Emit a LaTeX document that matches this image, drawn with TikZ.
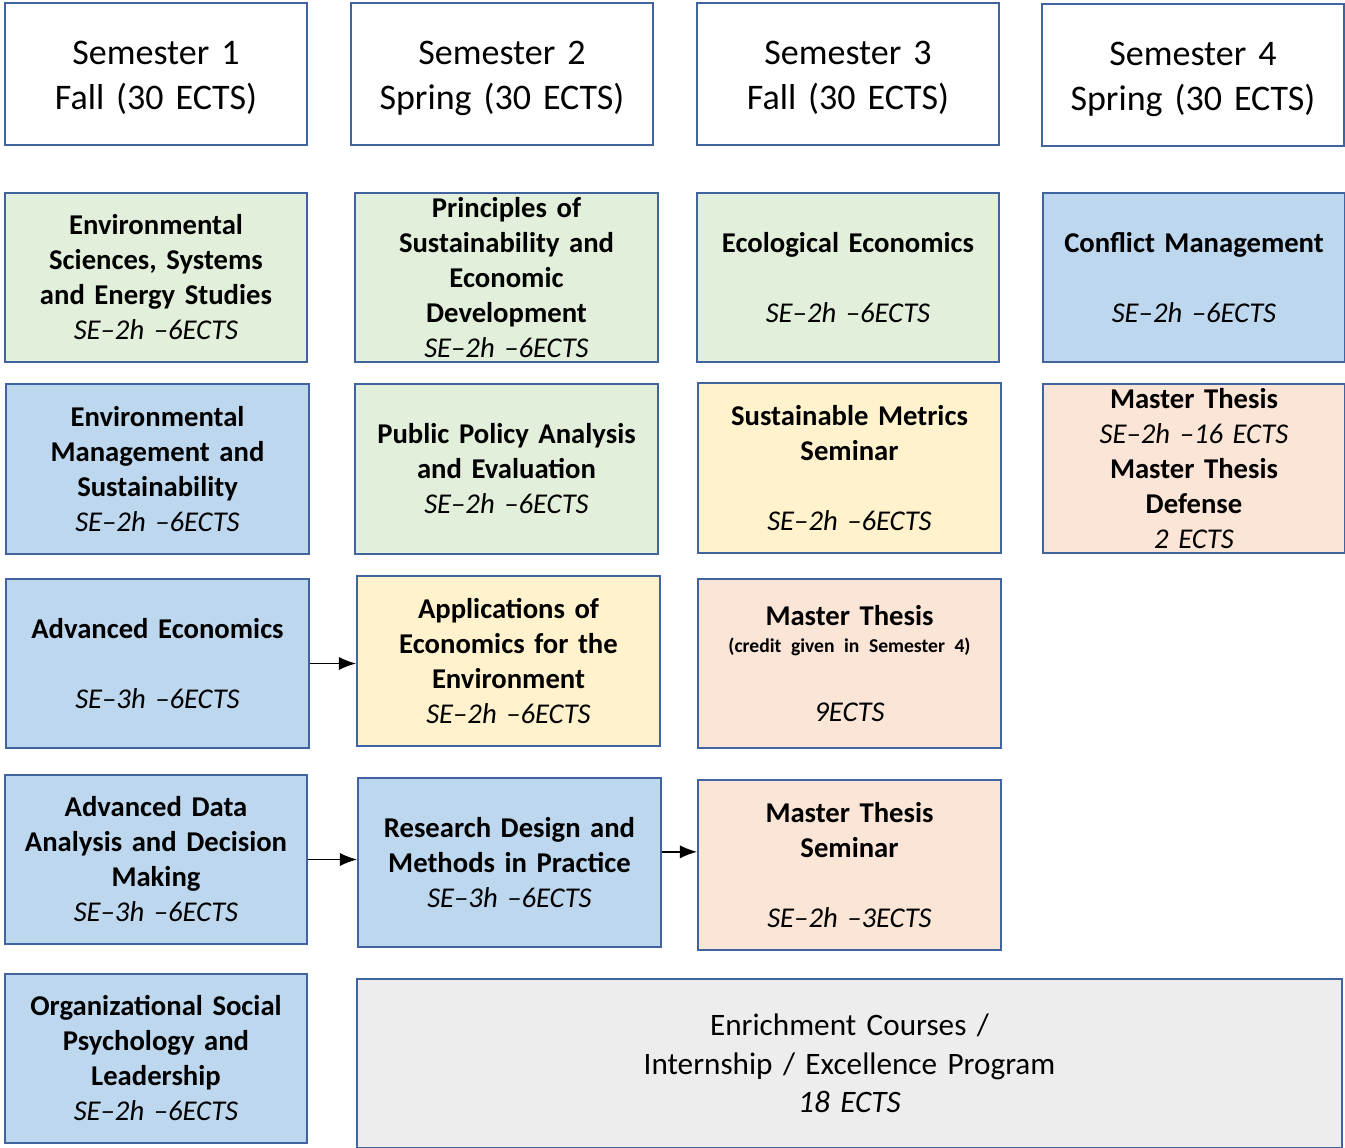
\documentclass[tikz,border=0pt]{standalone}
\usepackage{fontspec}
\setmainfont{Carlito}
\usetikzlibrary{arrows.meta}

\definecolor{boxline}{RGB}{65,100,160}
\definecolor{cgreen}{RGB}{226,239,218}
\definecolor{cblue}{RGB}{189,215,238}
\definecolor{cyellow}{RGB}{255,242,204}
\definecolor{cpeach}{RGB}{251,229,214}
\definecolor{cgrey}{RGB}{237,237,237}

\tikzset{every picture/.style={line width=0.75pt}}
\tikzset{
  course/.style={draw=boxline, line width=1.6pt, align=center, inner sep=0pt,
    minimum width=227pt, minimum height=127pt, text width=220pt,
    font=\fontsize{21.5}{26.25}\selectfont},
  semhead/.style={course, fill=white, minimum height=106.5pt, text depth=32pt,
    font=\fontsize{27}{33.75}\selectfont},
  greenc/.style={course, fill=cgreen},
  bluec/.style={course, fill=cblue},
  yellowc/.style={course, fill=cyellow},
  peachc/.style={course, fill=cpeach},
  greyc/.style={course, fill=cgrey, minimum width=739pt, text width=720pt,
    font=\fontsize{23.4}{29}\selectfont},
  prereq/.style={-{Latex[length=13pt,width=10pt]}, line width=1.2pt}
}

\begin{document}
\begin{tikzpicture}[x=0.75pt,y=0.75pt,yscale=-1,xscale=1]
    \useasboundingbox (0,0) rectangle (1345,1148);
    % Text Node
    \node[semhead] (sem1) at (156,74) {Semester 1\\Fall (30 ECTS)};
    % Text Node
    \node[semhead] (sem2) at (502,74) {Semester 2\\Spring (30 ECTS)};
    % Text Node
    \node[semhead] (sem3) at (848,74) {Semester 3\\Fall (30 ECTS)};
    % Text Node
    \node[semhead] (sem4) at (1193,75) {Semester 4\\Spring (30 ECTS)};
    % Text Node
    \node[greenc] (envsci) at (156,277.5) {\textbf{Environmental}\\\textbf{Sciences, Systems}\\\textbf{and Energy Studies}\\\textit{SE–2h –6ECTS}};
    % Text Node
    \node[greenc] (princ) at (506.5,277.5) {\textbf{Principles of}\\\textbf{Sustainability and}\\\textbf{Economic}\\\textbf{Development}\\\textit{SE–2h –6ECTS}};
    % Text Node
    \node[greenc] (ecoeco) at (848,277.5) {\textbf{Ecological Economics}\\[26.25pt]\textit{SE–2h –6ECTS}};
    % Text Node
    \node[bluec] (conflict) at (1194,277.5) {\textbf{Conflict Management}\\[26.25pt]\textit{SE–2h –6ECTS}};
    % Text Node
    \node[bluec] (envmgmt) at (157.5,469) {\textbf{Environmental}\\\textbf{Management and}\\\textbf{Sustainability}\\\textit{SE–2h –6ECTS}};
    % Text Node
    \node[greenc] (policy) at (506.5,469) {\textbf{Public Policy Analysis}\\\textbf{and Evaluation}\\\textit{SE–2h –6ECTS}};
    % Text Node
    \node[yellowc] (metrics) at (849.5,468) {\textbf{Sustainable Metrics}\\\textbf{Seminar}\\[26.25pt]\textit{SE–2h –6ECTS}};
    % Text Node
    \node[peachc] (thesis) at (1194,468.5) {\textbf{Master Thesis}\\\textit{SE–2h –16 ECTS}\\\textbf{Master Thesis}\\\textbf{Defense}\\\textit{2 ECTS}};
    % Text Node
    \node[bluec] (adveco) at (157.5,663.5) {\textbf{Advanced Economics}\\[26.25pt]\textit{SE–3h –6ECTS}};
    % Text Node
    \node[yellowc] (appeco) at (508.5,661) {\textbf{Applications of}\\\textbf{Economics for the}\\\textbf{Environment}\\\textit{SE–2h –6ECTS}};
    % Text Node
    \node[peachc] (thesiswork) at (849.5,663.5) {\textbf{Master Thesis}\\[-6pt]{\fontsize{14.7}{17}\selectfont\textbf{(credit given in Semester 4)}}\\[26pt]\textit{9ECTS}};
    % Text Node
    \node[bluec] (advdata) at (156,859.5) {\textbf{Advanced Data}\\\textbf{Analysis and Decision}\\\textbf{Making}\\\textit{SE–3h –6ECTS}};
    % Text Node
    \node[bluec] (resdesign) at (509.5,862.5) {\textbf{Research Design and}\\\textbf{Methods in Practice}\\\textit{SE–3h –6ECTS}};
    % Text Node
    \node[peachc] (thesissem) at (849.5,865) {\textbf{Master Thesis}\\\textbf{Seminar}\\[26.25pt]\textit{SE–2h –3ECTS}};
    % Text Node
    \node[bluec] (orgpsy) at (156,1058.5) {\textbf{Organizational Social}\\\textbf{Psychology and}\\\textbf{Leadership}\\\textit{SE–2h –6ECTS}};
    % Text Node
    \node[greyc] (enrich) at (849.5,1063.5) {Enrichment Courses /\\Internship / Excellence Program\\\textit{18 ECTS}};
    % Connection
    \draw[prereq] (adveco.east) -- (adveco.east -| appeco.west);
    % Connection
    \draw[prereq] (advdata.east) -- (advdata.east -| resdesign.west);
    % Connection
    \draw[prereq] ([yshift=-8pt]resdesign.east) -- ([yshift=-8pt]resdesign.east -| thesissem.west);
\end{tikzpicture}
\end{document}
